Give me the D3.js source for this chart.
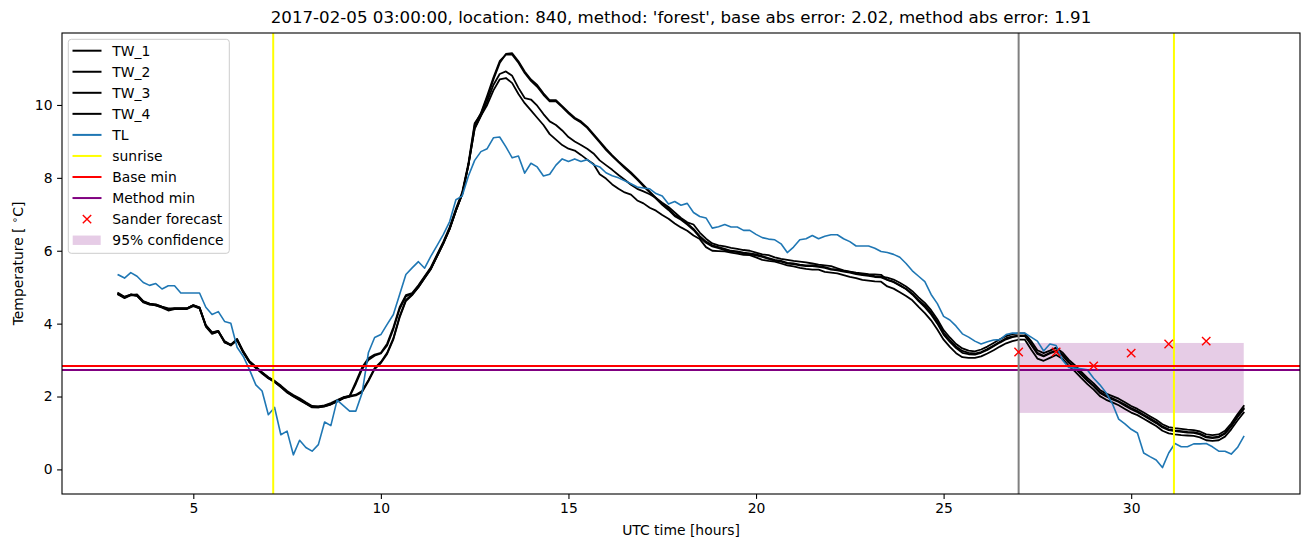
<!DOCTYPE html>
<html><head><meta charset="utf-8">
<script src="https://cdn.jsdelivr.net/npm/d3@7"></script>
<style>
body{margin:0;background:#fff}
svg{display:block}
text{font-family:"DejaVu Sans",sans-serif;fill:#000}
</style>
</head><body>
<svg id="chart" width="1310" height="547"></svg>
<script>
// ---------------- data ----------------
const startHour = 3;          // first sample (UTC hours)
const stepHours = 1 / 6;      // 10-minute samples
const TL = [5.34,5.25,5.40,5.30,5.13,5.05,5.10,4.95,5.04,5.04,
4.84,4.84,4.84,4.84,4.45,4.25,4.33,4.06,4.01,3.35,
3.1,2.73,2.32,2.15,1.5,1.7,0.95,1.05,0.4,0.8,
0.6,0.5,0.68,1.3,1.2,1.9,1.75,1.6,1.6,2.1,
3.2,3.62,3.7,3.98,4.25,4.8,5.35,5.53,5.7,5.52,
5.85,6.15,6.45,6.8,7.4,7.5,8.05,8.48,8.72,8.8,
9.1,9.12,8.85,8.55,8.6,8.13,8.4,8.3,8.05,8.1,
8.35,8.52,8.45,8.52,8.45,8.5,8.36,8.3,8.14,8.06,
8.0,7.92,7.84,7.75,7.72,7.7,7.57,7.5,7.28,7.35,
7.25,7.3,7.05,6.94,6.9,6.62,6.66,6.72,6.65,6.65,
6.56,6.56,6.45,6.36,6.32,6.3,6.19,5.95,6.1,6.3,
6.33,6.42,6.33,6.4,6.44,6.44,6.33,6.25,6.13,6.13,
6.13,6.07,5.98,5.95,5.9,5.82,5.65,5.45,5.3,5.15,
4.8,4.55,4.2,4.1,3.93,3.72,3.63,3.52,3.44,3.5,
3.55,3.56,3.7,3.74,3.74,3.74,3.63,3.52,3.25,3.44,
3.4,3.0,2.8,2.78,2.76,2.73,2.5,2.32,2.1,1.8,
1.38,1.25,1.1,1.0,0.45,0.35,0.26,0.05,0.45,0.71,
0.62,0.62,0.7,0.7,0.71,0.62,0.5,0.5,0.42,0.6,
0.9];
const TW_1 = [4.84,4.74,4.8,4.76,4.6,4.55,4.53,4.47,4.42,4.42,
4.42,4.42,4.51,4.45,3.95,3.75,3.8,3.5,3.41,3.57,
3.22,2.95,2.8,2.65,2.52,2.42,2.28,2.13,2.02,1.93,
1.82,1.72,1.72,1.75,1.8,1.88,1.97,2.02,2.4,2.8,
3.05,3.15,3.2,3.45,3.9,4.45,4.78,4.84,5.05,5.3,
5.55,5.9,6.25,6.65,7.15,7.6,8.4,9.5,9.75,10.2,
10.7,11.15,11.4,11.42,11.2,10.92,10.7,10.55,10.32,10.13,
10.13,9.97,9.8,9.65,9.55,9.4,9.2,9.0,8.8,8.62,
8.45,8.3,8.15,7.98,7.8,7.62,7.45,7.28,7.15,6.98,
6.88,6.75,6.6,6.4,6.25,6.15,6.1,6.05,6.0,5.98,
5.95,5.93,5.9,5.85,5.8,5.75,5.72,5.67,5.65,5.62,
5.6,5.6,5.58,5.55,5.5,5.48,5.45,5.42,5.38,5.35,
5.33,5.3,5.29,5.26,5.21,5.12,5.02,4.89,4.72,4.57,
4.37,4.12,3.82,3.62,3.44,3.32,3.26,3.24,3.29,3.37,
3.47,3.57,3.66,3.71,3.73,3.73,3.52,3.27,3.19,3.26,
3.34,3.21,3.01,2.86,2.68,2.51,2.36,2.18,2.08,2.01,
1.94,1.84,1.74,1.66,1.56,1.46,1.36,1.24,1.16,1.13,
1.11,1.09,1.08,1.04,0.96,0.94,0.96,1.06,1.26,1.51,
1.74];
const TW_2 = [4.8,4.72,4.78,4.8,4.62,4.55,4.5,4.45,4.4,4.42,
4.42,4.42,4.5,4.42,3.92,3.72,3.78,3.48,3.42,3.55,
3.2,2.93,2.78,2.63,2.5,2.4,2.26,2.11,2.0,1.9,
1.8,1.7,1.7,1.73,1.78,1.86,1.95,2.0,2.35,2.75,
3.0,3.12,3.18,3.4,3.85,4.4,4.75,4.82,5.02,5.28,
5.52,5.87,6.22,6.6,7.1,7.55,8.35,9.45,9.78,10.25,
10.75,11.2,11.38,11.38,11.16,10.88,10.66,10.5,10.28,10.1,
10.1,9.94,9.77,9.62,9.52,9.37,9.17,8.97,8.77,8.6,
8.43,8.27,8.12,7.95,7.77,7.6,7.43,7.26,7.12,6.95,
6.85,6.72,6.57,6.37,6.22,6.12,6.07,6.02,5.98,5.96,
5.93,5.9,5.87,5.83,5.78,5.73,5.7,5.65,5.63,5.6,
5.58,5.58,5.56,5.53,5.48,5.46,5.43,5.4,5.36,5.33,
5.31,5.28,5.27,5.2,5.14,5.05,4.95,4.82,4.65,4.5,
4.3,4.05,3.75,3.55,3.37,3.25,3.2,3.18,3.22,3.3,
3.4,3.5,3.6,3.65,3.67,3.67,3.45,3.2,3.12,3.2,
3.27,3.15,2.95,2.8,2.62,2.45,2.3,2.12,2.02,1.95,
1.87,1.78,1.68,1.6,1.5,1.4,1.3,1.18,1.1,1.07,
1.05,1.03,1.02,0.98,0.9,0.88,0.9,1.0,1.2,1.45,
1.68];
const TW_3 = [4.82,4.72,4.8,4.78,4.6,4.53,4.52,4.46,4.38,4.42,
4.42,4.42,4.5,4.44,3.96,3.76,3.8,3.52,3.42,3.58,
3.24,2.97,2.82,2.67,2.53,2.43,2.3,2.15,2.04,1.95,
1.84,1.74,1.73,1.76,1.82,1.9,1.98,2.02,2.05,2.15,
2.45,2.78,2.95,3.2,3.6,4.2,4.65,4.8,5.0,5.25,
5.5,5.85,6.2,6.6,7.1,7.55,8.35,9.35,9.7,10.1,
10.55,10.85,10.92,10.8,10.47,10.19,10.15,9.98,9.75,9.55,
9.45,9.3,9.12,9.0,8.9,8.8,8.67,8.48,8.35,8.22,
8.08,7.95,7.81,7.7,7.63,7.55,7.45,7.32,7.2,7.05,
6.9,6.78,6.72,6.5,6.33,6.2,6.15,6.12,6.08,6.05,
6.02,6.0,5.95,5.9,5.88,5.82,5.78,5.75,5.72,5.7,
5.68,5.65,5.62,5.6,5.58,5.52,5.46,5.43,5.4,5.38,
5.36,5.35,5.34,5.2,5.15,5.05,4.95,4.8,4.62,4.45,
4.25,4.0,3.7,3.5,3.33,3.2,3.16,3.15,3.2,3.28,
3.38,3.48,3.57,3.63,3.66,3.66,3.42,3.17,3.1,3.18,
3.25,3.13,2.93,2.78,2.6,2.43,2.28,2.1,2.0,1.92,
1.85,1.75,1.65,1.57,1.47,1.37,1.27,1.15,1.08,1.05,
1.03,1.01,1.0,0.96,0.88,0.86,0.88,0.98,1.18,1.43,
1.65];
const TW_4 = [4.8,4.7,4.78,4.76,4.58,4.52,4.5,4.44,4.36,4.4,
4.4,4.4,4.48,4.42,3.94,3.74,3.78,3.5,3.4,3.55,
3.22,2.95,2.8,2.65,2.5,2.4,2.27,2.12,2.01,1.92,
1.81,1.71,1.7,1.73,1.79,1.87,1.96,2.0,2.03,2.12,
2.42,2.75,2.92,3.17,3.57,4.17,4.62,4.78,5.0,5.25,
5.5,5.85,6.2,6.6,7.1,7.55,8.35,9.35,9.7,10.0,
10.4,10.7,10.74,10.6,10.3,10.05,9.85,9.65,9.45,9.2,
9.05,8.9,8.8,8.75,8.63,8.5,8.38,8.1,7.98,7.82,
7.7,7.6,7.54,7.38,7.3,7.18,7.1,6.98,6.88,6.75,
6.64,6.55,6.42,6.32,6.1,6.0,5.99,5.98,5.95,5.92,
5.89,5.88,5.82,5.75,5.72,5.7,5.65,5.6,5.57,5.53,
5.5,5.48,5.48,5.42,5.4,5.38,5.33,5.28,5.25,5.2,
5.18,5.16,5.15,5.02,4.96,4.86,4.76,4.64,4.46,4.29,
4.09,3.84,3.56,3.36,3.19,3.08,3.06,3.06,3.1,3.18,
3.27,3.37,3.46,3.52,3.56,3.56,3.29,3.04,2.98,3.06,
3.14,3.04,2.84,2.69,2.51,2.34,2.19,2.01,1.91,1.84,
1.76,1.66,1.56,1.49,1.39,1.29,1.19,1.06,0.99,0.96,
0.94,0.93,0.92,0.88,0.8,0.78,0.8,0.9,1.1,1.34,
1.56];
const sunriseHours = [7.13, 31.14];
const forecastStart = 27;
const baseMin = 2.84;
const methodMin = 2.73;
const sanderHours = [27, 28, 29, 30, 31, 32];
const sanderValues = [3.22, 3.22, 2.84, 3.19, 3.44, 3.52];
const confHours = [27, 33];
const confLower = 1.55;
const confUpper = 3.47;
const xTicks = [5, 10, 15, 20, 25, 30];
const yTicks = [0, 2, 4, 6, 8, 10];
const titleText = "2017-02-05 03:00:00, location: 840, method: 'forest', base abs error: 2.02, method abs error: 1.91";

// ---------------- chart ----------------
const L = 62, R = 1300, T = 33, B = 494;
const svg = d3.select("#chart");
const x = d3.scaleLinear().domain([1.5, 34.5]).range([L, R]);
const y = d3.scaleLinear().domain([-0.675, 11.975]).range([B, T]);
const hours = TL.map((_, i) => startHour + i * stepHours);

svg.append("defs").append("clipPath").attr("id", "clip")
  .append("rect").attr("x", L).attr("y", T).attr("width", R - L).attr("height", B - T);
const plot = svg.append("g").attr("clip-path", "url(#clip)");

// confidence band
plot.append("rect")
  .attr("x", x(confHours[0])).attr("width", x(confHours[1]) - x(confHours[0]))
  .attr("y", y(confUpper)).attr("height", y(confLower) - y(confUpper))
  .attr("fill", "purple").attr("fill-opacity", 0.2);

const line = d3.line().x((d, i) => x(hours[i])).y(d => y(d));
[TW_1, TW_2, TW_3, TW_4].forEach(s => {
  plot.append("path").datum(s).attr("d", line)
    .attr("fill", "none").attr("stroke", "#000").attr("stroke-width", 1.8)
    .attr("stroke-linejoin", "round").attr("stroke-linecap", "square");
});
plot.append("path").datum(TL).attr("d", line)
  .attr("fill", "none").attr("stroke", "#1f77b4").attr("stroke-width", 1.6)
  .attr("stroke-linejoin", "round").attr("stroke-linecap", "square");

// sunrise
sunriseHours.forEach(h => {
  plot.append("line").attr("x1", x(h)).attr("x2", x(h)).attr("y1", T).attr("y2", B)
    .attr("stroke", "#ffff00").attr("stroke-width", 2);
});
// horizontal minima
plot.append("line").attr("x1", L).attr("x2", R).attr("y1", y(baseMin)).attr("y2", y(baseMin))
  .attr("stroke", "red").attr("stroke-width", 2);
plot.append("line").attr("x1", L).attr("x2", R).attr("y1", y(methodMin)).attr("y2", y(methodMin))
  .attr("stroke", "purple").attr("stroke-width", 2);
// forecast start
plot.append("line").attr("x1", x(forecastStart)).attr("x2", x(forecastStart)).attr("y1", T).attr("y2", B)
  .attr("stroke", "gray").attr("stroke-width", 2);

// Sander forecast markers
const mk = 4.2;
sanderHours.forEach((h, i) => {
  const cx = x(h), cy = y(sanderValues[i]);
  plot.append("path")
    .attr("d", `M${cx - mk},${cy - mk}L${cx + mk},${cy + mk}M${cx - mk},${cy + mk}L${cx + mk},${cy - mk}`)
    .attr("stroke", "red").attr("stroke-width", 1.4).attr("fill", "none");
});

// axes frame
svg.append("rect").attr("x", L).attr("y", T).attr("width", R - L).attr("height", B - T)
  .attr("fill", "none").attr("stroke", "#000").attr("stroke-width", 1.1);

const fs = "13.9px";
const xAxis = svg.append("g").attr("transform", `translate(0,${B})`)
  .call(d3.axisBottom(x).tickValues(xTicks).tickSize(4.9).tickPadding(4.6).tickFormat(d3.format("d")));
xAxis.select(".domain").remove();
xAxis.selectAll("text").style("font-size", fs).style("font-family", "DejaVu Sans");
xAxis.selectAll("line").attr("stroke-width", 1.1);

const yAxis = svg.append("g").attr("transform", `translate(${L},0)`)
  .call(d3.axisLeft(y).tickValues(yTicks).tickSize(4.9).tickPadding(4.6).tickFormat(d3.format("d")));
yAxis.select(".domain").remove();
yAxis.selectAll("text").style("font-size", fs).style("font-family", "DejaVu Sans");
yAxis.selectAll("line").attr("stroke-width", 1.1);

// labels
svg.append("text").attr("x", (L + R) / 2).attr("y", 23).attr("text-anchor", "middle")
  .style("font-size", "16.67px").text(titleText);
svg.append("text").attr("x", (L + R) / 2).attr("y", 535).attr("text-anchor", "middle")
  .style("font-size", fs).text("UTC time [hours]");
const yl = svg.append("text").attr("transform", `translate(23,${(T + B) / 2}) rotate(-90)`)
  .attr("text-anchor", "middle").style("font-size", fs);
yl.append("tspan").text("Temperature [ ");
yl.append("tspan").attr("dy", -5).style("font-size", "10px").text("\u2218");
yl.append("tspan").attr("dy", 5).text("C]");

// legend
const lg = svg.append("g");
lg.append("rect").attr("x", 68.3).attr("y", 39.3).attr("width", 161).attr("height", 214).attr("rx", 3)
  .attr("fill", "#fff").attr("fill-opacity", 0.8).attr("stroke", "#cccccc").attr("stroke-width", 1);
const legendItems = [
  {label: "TW_1", type: "line", color: "#000"},
  {label: "TW_2", type: "line", color: "#000"},
  {label: "TW_3", type: "line", color: "#000"},
  {label: "TW_4", type: "line", color: "#000"},
  {label: "TL", type: "line", color: "#1f77b4"},
  {label: "sunrise", type: "line", color: "#ffff00"},
  {label: "Base min", type: "line", color: "red"},
  {label: "Method min", type: "line", color: "purple"},
  {label: "Sander forecast", type: "marker", color: "red"},
  {label: "95% confidence", type: "patch", color: "purple"}
];
legendItems.forEach((it, i) => {
  const cy = 50.7 + i * 21.05;
  if (it.type === "line") {
    lg.append("line").attr("x1", 72.5).attr("x2", 101.5).attr("y1", cy).attr("y2", cy)
      .attr("stroke", it.color).attr("stroke-width", 2);
  } else if (it.type === "marker") {
    const cx = 87;
    lg.append("path")
      .attr("d", `M${cx - mk},${cy - mk}L${cx + mk},${cy + mk}M${cx - mk},${cy + mk}L${cx + mk},${cy - mk}`)
      .attr("stroke", it.color).attr("stroke-width", 1.4);
  } else {
    lg.append("rect").attr("x", 72.7).attr("y", cy - 4.6).attr("width", 28).attr("height", 9.4)
      .attr("fill", it.color).attr("fill-opacity", 0.2);
  }
  lg.append("text").attr("x", 112.3).attr("y", cy + 5).style("font-size", fs).text(it.label);
});
</script>
</body></html>
